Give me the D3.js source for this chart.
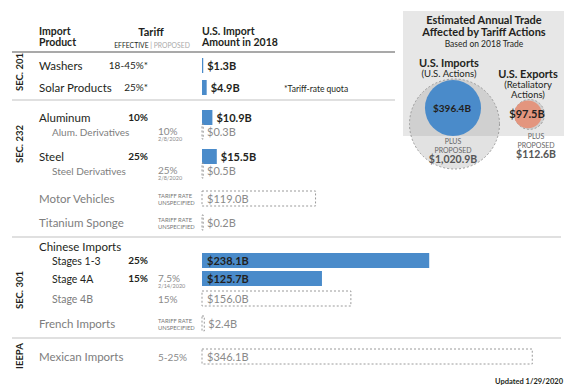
<!DOCTYPE html>
<html>
<head>
<meta charset="utf-8">
<script src="https://cdn.jsdelivr.net/npm/d3@7"></script>
<style>
body { margin: 0; background: #fff; }
svg text { font-family: Lato, "Open Sans", sans-serif; }
</style>
</head>
<body>
<div id="chart"></div>
<script>
// chart data
var sections = ["SEC. 201", "SEC. 232", "SEC. 301", "IEEPA"];
var products = ["Washers", "Solar Products", "Aluminum", "Alum. Derivatives", "Steel", "Steel Derivatives",
	"Motor Vehicles", "Titanium Sponge", "Chinese Imports", "Stages 1-3", "Stage 4A", "Stage 4B",
	"French Imports", "Mexican Imports"];
var productSection = ["SEC. 201", "SEC. 201", "SEC. 232", "SEC. 232", "SEC. 232", "SEC. 232", "SEC. 232", "SEC. 232",
	"SEC. 301", "SEC. 301", "SEC. 301", "SEC. 301", "SEC. 301", "IEEPA"];
var productLevel = ["main", "main", "main", "sub", "main", "sub", "main", "main", "main", "sub", "sub", "sub", "main", "main"];
var effectiveRates = ["18-45%*", "25%*", "10%", "", "25%", "", "", "", "", "25%", "15%", "", "", ""];
var proposedRates = ["", "", "", "10%", "", "25%", "TARIFF RATE|UNSPECIFIED", "TARIFF RATE|UNSPECIFIED", "", "", "7.5%", "15%",
	"TARIFF RATE|UNSPECIFIED", "5-25%"];
var proposedDates = ["", "", "", "2/8/2020", "", "2/8/2020", "", "", "", "", "2/14/2020", "", "", ""];
var importAmounts = [1.3, 4.9, 10.9, 0.3, 15.5, 0.5, 119.0, 0.2, null, 238.1, 125.7, 156.0, 2.4, 346.1];
var amountStatus = ["effective", "effective", "effective", "proposed", "effective", "proposed", "proposed", "proposed",
	"", "effective", "effective", "proposed", "proposed", "proposed"];

var tradeGroups = ["U.S. Imports", "U.S. Exports"];
var tradeSubtitles = [["(U.S. Actions)"], ["(Retaliatory", "Actions)"]];
var tradeEffective = [396.4, 97.5];
var tradeWithProposed = [1020.9, 112.6];

// layout
w = 576;
h = 389;
var blue = "#4a8bca", salmon = "#e3957e", dark = "#231f20", gray = "#8a8a8a";
var rowGaps = [0, 22, 30, 14, 25, 14, 28, 24, 24, 14, 18, 20, 25, 33];
var sectionLabelY = [72, 144, 290, 356];
var separators = [{y: 100, x2: 395}, {y: 237, x2: 561}, {y: 338, x2: 561}];

var rows = [];
var yPos = 65.5;
products.forEach(function(p, i) {
	yPos += rowGaps[i];
	rows.push({name: p, section: productSection[i], level: productLevel[i], eff: effectiveRates[i],
		prop: proposedRates[i], date: proposedDates[i], amount: importAmounts[i], status: amountStatus[i], y: yPos});
});

var svg = d3.select("#chart").append("svg")
	.attr("width", w)
	.attr("height", h);

xScale = d3.scaleLinear()
	.domain([0, 350])
	.range([202, 536]);

// headers
var head = svg.append("g").attr("font-weight", "bold").attr("font-size", 10.5).attr("fill", dark);
head.append("text").attr("x", 39).attr("y", 35).text("Import");
head.append("text").attr("x", 39).attr("y", 46).text("Product");
head.append("text").attr("x", 151).attr("y", 36).attr("text-anchor", "middle").attr("font-size", 11).text("Tariff");
head.append("text").attr("x", 202).attr("y", 34.5).text("U.S. Import");
head.append("text").attr("x", 202).attr("y", 46).text("Amount in 2018");
var sub = svg.append("text").attr("x", 152).attr("y", 47.5).attr("text-anchor", "middle").attr("font-size", 6.8);
sub.append("tspan").attr("fill", dark).text("EFFECTIVE ");
sub.append("tspan").attr("fill", "#999").text("| ");
sub.append("tspan").attr("fill", "#aaa").text("PROPOSED");

svg.append("line")
	.attr("x1", 12).attr("x2", 395).attr("y1", 52).attr("y2", 52)
	.style("stroke", "#8c8c8c").style("stroke-width", 1.5);

svg.selectAll(".sep").data(separators).enter().append("line")
	.attr("class", "sep")
	.attr("x1", 12).attr("x2", function(d) { return d.x2; })
	.attr("y1", function(d) { return d.y; }).attr("y2", function(d) { return d.y; })
	.style("stroke", "#e0e0e0").style("stroke-width", 2);

// section labels
svg.selectAll(".sec").data(sections).enter().append("text")
	.attr("class", "sec")
	.attr("transform", function(d, i) { return "translate(23," + sectionLabelY[i] + ") rotate(-90)"; })
	.attr("text-anchor", "middle")
	.attr("font-size", 9.5)
	.attr("font-weight", "bold")
	.attr("fill", dark)
	.text(function(d) { return d; });

function isGray(d) { return d.status == "proposed"; }

// product names
svg.selectAll(".name").data(rows).enter().append("text")
	.attr("class", "name")
	.attr("x", function(d) { return d.level == "main" ? 39 : 52; })
	.attr("y", function(d) { return d.y + 4; })
	.attr("font-size", function(d) { return d.level == "main" ? 11.5 : (d.section == "SEC. 301" ? 10.5 : 10); })
	.attr("fill", function(d) { return isGray(d) ? "#7d7d7d" : dark; })
	.text(function(d) { return d.name; });

// effective tariffs
svg.selectAll(".eff").data(rows.filter(function(d) { return d.eff; })).enter().append("text")
	.attr("class", "eff")
	.attr("x", 148)
	.attr("y", function(d) { return d.y + 3.5; })
	.attr("text-anchor", "end")
	.attr("font-size", 10)
	.attr("font-weight", function(d) { return d.eff.indexOf("*") > 0 ? "normal" : "bold"; })
	.attr("fill", dark)
	.text(function(d) { return d.eff; });

// proposed tariffs
var propRows = rows.filter(function(d) { return d.prop; });
propRows.forEach(function(d) {
	if (d.prop.indexOf("|") > 0) {
		var parts = d.prop.split("|");
		svg.append("text").attr("x", 158).attr("y", d.y - 0.5).attr("font-size", 5.8).attr("fill", "#777").text(parts[0]);
		svg.append("text").attr("x", 158).attr("y", d.y + 6).attr("font-size", 5.8).attr("fill", "#777").text(parts[1]);
	} else {
		svg.append("text").attr("x", 158).attr("y", d.y + (d.date ? 3 : 4)).attr("font-size", 10).attr("fill", gray).text(d.prop);
		if (d.date) svg.append("text").attr("x", 158).attr("y", d.y + 9).attr("font-size", 5.5).attr("fill", gray).text(d.date);
	}
});

// import bars
var barRows = rows.filter(function(d) { return d.amount != null; });
svg.selectAll(".bar").data(barRows).enter().append("rect")
	.attr("class", "bar")
	.attr("x", xScale(0))
	.attr("y", function(d) { return d.y - 7.5; })
	.attr("width", function(d) { return Math.max(xScale(d.amount) - xScale(0), 1.2); })
	.attr("height", 15)
	.style("fill", function(d) { return d.status == "effective" ? blue : "none"; })
	.style("stroke", function(d) { return d.status == "effective" ? "none" : "#9a9a9a"; })
	.style("stroke-width", 1)
	.style("stroke-dasharray", "2,2");

svg.selectAll(".val").data(barRows).enter().append("text")
	.attr("class", "val")
	.attr("x", function(d) {
		var bw = xScale(d.amount) - xScale(0);
		return bw > 50 ? xScale(0) + 5 : Math.max(xScale(d.amount) + 4, 207);
	})
	.attr("y", function(d) { return d.y + 4; })
	.attr("font-size", 11)
	.attr("font-weight", function(d) { return d.status == "effective" ? "bold" : "normal"; })
	.attr("fill", function(d) { return d.status == "effective" ? dark : "#8a8a8a"; })
	.text(function(d) { return "$" + d3.format(".1f")(d.amount) + "B"; });

svg.append("text").attr("x", 284).attr("y", rows[1].y + 4)
	.attr("font-size", 8.5).attr("fill", dark).text("*Tariff-rate quota");

// trade summary panel
svg.append("rect")
	.attr("x", 403).attr("y", 11).attr("width", 161).attr("height", 125)
	.style("fill", "#e7e7e7");

var title = svg.append("g").attr("text-anchor", "middle").attr("fill", dark);
title.append("text").attr("x", 484).attr("y", 24).attr("font-size", 11).attr("font-weight", "bold").text("Estimated Annual Trade");
title.append("text").attr("x", 484).attr("y", 36).attr("font-size", 11).attr("font-weight", "bold").text("Affected by Tariff Actions");
title.append("text").attr("x", 484).attr("y", 47).attr("font-size", 8.5).text("Based on 2018 Trade");

rScale = d3.scaleSqrt()
	.domain([0, 1020.9])
	.range([0, 45]);

var circleTop = [79, 99.5];
var circleX = [453, 528];
var groupLabelY = [67, 78];
var trade = tradeGroups.map(function(g, i) {
	return {name: g, subs: tradeSubtitles[i], eff: tradeEffective[i], all: tradeWithProposed[i],
		cx: circleX[i], top: circleTop[i], ly: groupLabelY[i]};
});

svg.selectAll(".propCircle").data(trade).enter().append("circle")
	.attr("class", "propCircle")
	.attr("cx", function(d) { return d.cx + 1.5; })
	.attr("cy", function(d) { return d.top + rScale(d.all); })
	.attr("r", function(d) { return rScale(d.all); })
	.style("fill", "#8c8c8c")
	.style("fill-opacity", 0.25)
	.style("stroke", "#9c9c9c")
	.style("stroke-dasharray", "2,2");

svg.selectAll(".effCircle").data(trade).enter().append("circle")
	.attr("class", "effCircle")
	.attr("cx", function(d) { return d.cx; })
	.attr("cy", function(d) { return d.top + 1 + rScale(d.eff); })
	.attr("r", function(d) { return rScale(d.eff); })
	.style("fill", function(d, i) { return i == 0 ? blue : salmon; });

trade.forEach(function(d, i) {
	var cx = i == 0 ? d.cx - 4 : d.cx;
	svg.append("text").attr("x", cx).attr("y", d.ly).attr("text-anchor", "middle")
		.attr("font-size", 11).attr("font-weight", "bold").attr("fill", dark).text(d.name);
	d.subs.forEach(function(s, j) {
		svg.append("text").attr("x", cx).attr("y", d.ly + 10 + j * 10).attr("text-anchor", "middle")
			.attr("font-size", 9.5).attr("fill", dark).text(s);
	});
	svg.append("text").attr("x", d.cx - 1).attr("y", d.top + 1 + rScale(d.eff) + 3.5).attr("text-anchor", "middle")
		.attr("font-size", i == 0 ? 10 : 11).attr("font-weight", "bold").attr("fill", dark)
		.text("$" + d3.format(".1f")(d.eff) + "B");
	var px = i == 0 ? d.cx : d.cx + 8;
	var py = i == 0 ? 144 : 139;
	svg.append("text").attr("x", px).attr("y", py).attr("text-anchor", "middle")
		.attr("font-size", 7).attr("fill", "#666").text("PLUS");
	svg.append("text").attr("x", px).attr("y", py + 9).attr("text-anchor", "middle")
		.attr("font-size", 7).attr("fill", "#666").text("PROPOSED");
	svg.append("text").attr("x", px).attr("y", py + 19).attr("text-anchor", "middle")
		.attr("font-size", 10.5).attr("font-weight", "bold").attr("fill", "#555")
		.text("$" + d3.format(",.1f")(d.all) + "B");
});

svg.append("text").attr("x", 563).attr("y", 384).attr("text-anchor", "end")
	.attr("font-size", 7.5).attr("font-weight", "bold").attr("fill", dark).text("Updated 1/29/2020");
</script>
</body>
</html>
